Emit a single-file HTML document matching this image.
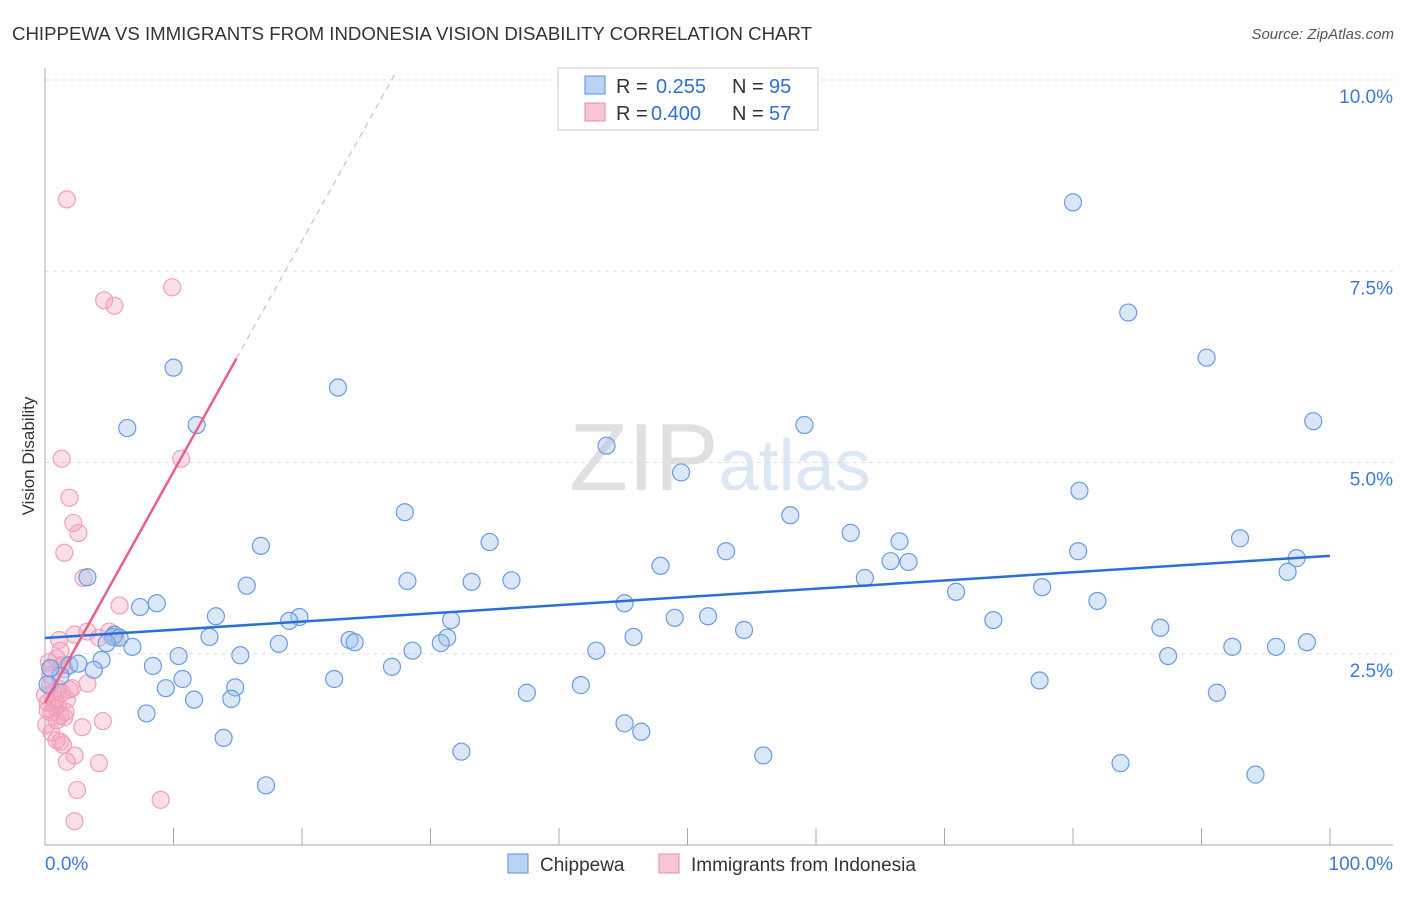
<!DOCTYPE html>
<html><head><meta charset="utf-8"><style>
body{margin:0;background:#fff;font-family:"Liberation Sans",sans-serif;}
svg text{font-family:"Liberation Sans",sans-serif;}
</style></head><body>
<svg id="c" width="1406" height="892">
<text x="12" y="40" font-size="18" fill="#333" textLength="800" lengthAdjust="spacingAndGlyphs">CHIPPEWA VS IMMIGRANTS FROM INDONESIA VISION DISABILITY CORRELATION CHART</text>
<text x="1394" y="39" font-size="15" fill="#555" text-anchor="end" font-style="italic">Source: ZipAtlas.com</text>
<text x="34" y="456" font-size="17" fill="#333" text-anchor="middle" transform="rotate(-90 34 456)">Vision Disability</text>
<text x="720" y="490" font-size="96" text-anchor="middle" font-family="Liberation Serif"><tspan fill="#e0e0e0">ZIP</tspan><tspan fill="#dbe7f6" font-family="Liberation Sans" font-size="72">atlas</tspan></text>
<g id="grid"></g><g id="marks"></g>
<g>
<rect x="558" y="68" width="260" height="62" fill="#fff" stroke="#ccc"/>
<rect x="585" y="76" width="20" height="18" fill="#b9d3f5" stroke="#5a8fd8"/>
<text x="616" y="93" font-size="20" fill="#333">R =</text>
<text x="656" y="93" font-size="20" fill="#2d6fd4">0.255</text>
<text x="732" y="93" font-size="20" fill="#333">N =</text>
<text x="769" y="93" font-size="20" fill="#2d6fd4">95</text>
<rect x="585" y="103" width="20" height="18" fill="#f9c6d4" stroke="#e88aa5"/>
<text x="616" y="120" font-size="20" fill="#333">R =</text>
<text x="651" y="120" font-size="20" fill="#2d6fd4">0.400</text>
<text x="732" y="120" font-size="20" fill="#333">N =</text>
<text x="769" y="120" font-size="20" fill="#2d6fd4">57</text>
</g>
<g>
<rect x="508" y="854" width="20" height="19" fill="#b9d3f5" stroke="#5a8fd8"/>
<text x="540" y="871" font-size="19" fill="#333">Chippewa</text>
<rect x="659" y="854" width="20" height="19" fill="#f9c6d4" stroke="#e88aa5"/>
<text x="691" y="871" font-size="19" fill="#333">Immigrants from Indonesia</text>
</g>
</svg>
<script>
const yTicks=[2.5,5,7.5,10];
const yTickLabels=["2.5%","5.0%","7.5%","10.0%"];
const blueX=[80.0,84.3,90.4,98.7,22.8,10.0,6.4,11.8,59.1,43.7,49.5,80.5,28.0,58.0,62.7,34.6,16.8,53.0,80.4,93.0,66.5,65.8,67.2,97.4,96.7,47.9,63.8,3.3,36.3,28.2,33.2,15.7,70.9,77.6,81.9,8.7,7.4,45.1,13.3,19.8,19.0,31.6,49.0,51.6,73.8,5.4,5.3,5.8,12.8,23.7,24.1,31.3,30.8,54.4,45.8,86.8,18.2,6.8,4.8,28.6,42.9,15.2,10.4,92.4,95.8,98.2,4.4,8.4,1.9,2.6,3.8,87.4,27.0,1.2,10.7,22.5,41.7,77.4,14.8,9.4,37.5,91.2,11.6,14.5,7.9,45.1,46.4,13.9,32.4,55.9,83.7,94.2,17.2,0.4,0.2];
const blueY=[8.4,6.96,6.37,5.54,5.98,6.24,5.45,5.49,5.49,5.22,4.87,4.63,4.35,4.31,4.08,3.96,3.91,3.84,3.84,4.01,3.97,3.71,3.70,3.75,3.57,3.65,3.49,3.50,3.46,3.45,3.44,3.39,3.31,3.37,3.19,3.16,3.11,3.16,2.99,2.98,2.93,2.94,2.97,2.99,2.94,2.75,2.72,2.71,2.72,2.68,2.65,2.71,2.64,2.81,2.72,2.84,2.63,2.59,2.64,2.54,2.54,2.48,2.47,2.59,2.59,2.65,2.42,2.34,2.35,2.37,2.29,2.47,2.33,2.21,2.17,2.17,2.09,2.15,2.06,2.05,1.99,1.99,1.90,1.91,1.72,1.59,1.48,1.40,1.22,1.17,1.07,0.92,0.78,2.31,2.1];
const pinkX=[1.7,9.9,4.6,5.4,10.6,1.3,1.9,2.2,2.6,1.5,3.0,5.8,3.3,5.0,2.3,1.1,4.2,5.5,1.2,0.9,0.3,0.5,1.5,3.3,2.1,0.4,0.6,1.3,1.7,0.2,0.8,0.5,1.2,1.5,0.9,4.5,2.9,0.5,0.9,1.2,1.4,2.3,1.7,4.2,2.5,9.0,2.3,0.8,0.2,1.0,0.0,0.1,1.3,0.4,1.9,1.6,1.0];
const pinkY=[8.44,7.29,7.12,7.05,5.05,5.05,4.54,4.21,4.08,3.82,3.49,3.13,2.79,2.79,2.75,2.68,2.71,2.71,2.54,2.44,2.39,2.31,2.30,2.11,2.05,2.09,1.99,1.99,1.90,1.86,1.80,1.73,1.69,1.67,1.63,1.62,1.54,1.47,1.37,1.35,1.31,1.17,1.09,1.07,0.72,0.59,0.31,1.90,1.76,1.83,1.96,1.57,2.35,2.22,2.03,1.74,2.05];
const blueLine=[[0,2.706],[100,3.78]];
const pinkLine=[[0,1.86],[14.9,6.36]];
const pinkDash=[[14.9,6.36],[27.2,10.07]];
const X=v=>45+v*12.85, Y=v=>845-v*76.5;
const NS="http://www.w3.org/2000/svg";
function mk(t,a,p){const e=document.createElementNS(NS,t);for(const k in a)e.setAttribute(k,a[k]);p.appendChild(e);return e;}
const g=document.getElementById('grid'),m=document.getElementById('marks');
yTicks.forEach((t,i)=>{
 const l=mk('line',{x1:45,x2:1393,y1:Y(t),y2:Y(t),stroke:'#ddd','stroke-dasharray':'4,4'},g);
 
 
 const tx=mk('text',{x:1393,y:Y(t)+23,'font-size':19,fill:'#3b78d8','text-anchor':'end'},g);tx.textContent=yTickLabels[i];
 
 
});
mk('line',{x1:45,x2:45,y1:68,y2:845,stroke:'#aaa'},g);
mk('line',{x1:45,x2:1393,y1:845,y2:845,stroke:'#aaa'},g);
for(let i=1;i<=10;i++){const l=mk('line',{x1:X(i*10),x2:X(i*10),y1:828,y2:845,stroke:'#aaa'},g);
 
 }
const x0=mk('text',{x:45,y:870,'font-size':19,fill:'#3b78d8'},g);x0.textContent='0.0%';
const x1=mk('text',{x:1393,y:870,'font-size':19,fill:'#3b78d8','text-anchor':'end'},g);x1.textContent='100.0%';
pinkX.forEach((v,i)=>{const c=mk('circle',{cx:X(v),cy:Y(pinkY[i]),r:8.5,fill:'rgba(244,160,185,0.35)',stroke:'#f0a0b8','stroke-width':1.2},m);
 
 });
blueX.forEach((v,i)=>{const c=mk('circle',{cx:X(v),cy:Y(blueY[i]),r:8.5,fill:'rgba(160,195,240,0.4)',stroke:'#6a9be0','stroke-width':1.2},m);
 
 });
const bl=mk('line',{x1:X(blueLine[0][0]),y1:Y(blueLine[0][1]),x2:X(blueLine[1][0]),y2:Y(blueLine[1][1]),stroke:'#2a6fd6','stroke-width':2.5},m);


const pl=mk('line',{x1:X(pinkLine[0][0]),y1:Y(pinkLine[0][1]),x2:X(pinkLine[1][0]),y2:Y(pinkLine[1][1]),stroke:'#e8608a','stroke-width':2.5},m);


const pd=mk('line',{x1:X(pinkDash[0][0]),y1:Y(pinkDash[0][1]),x2:X(pinkDash[1][0]),y2:Y(pinkDash[1][1]),stroke:'#eaa0b8','stroke-width':1,'stroke-dasharray':'6,5'},m);


</script>
</body></html>
